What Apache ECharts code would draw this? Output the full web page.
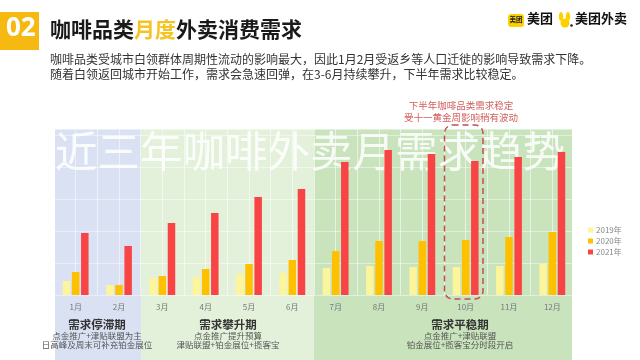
<!DOCTYPE html>
<html><head><meta charset="utf-8">
<script src="https://cdn.jsdelivr.net/npm/echarts@6/dist/echarts.min.js"></script>
<style>html,body{margin:0;padding:0;background:#fff}#c{width:640px;height:360px}</style>
</head><body><div id="c"></div>
<script>
const months = ['1月','2月','3月','4月','5月','6月','7月','8月','9月','10月','11月','12月'];
const seriesNames = ['2019年','2020年','2021年'];
const v2019 = [14, 10, 17, 18, 21, 22, 27, 29, 28, 28, 29, 31];
const v2020 = [23, 10, 19, 26, 31, 35, 44, 54, 54, 55, 58, 63];
const v2021 = [62, 49, 72, 82, 98, 106, 133, 145, 141, 134, 138, 143];
const phaseTitles = ['需求停滞期','需求攀升期','需求平稳期'];
const phaseLine1 = ['点金推广+津贴联盟为主','点金推广提升预算','点金推广+津贴联盟'];
const phaseLine2 = ['日高峰及周末可补充铂金展位','津贴联盟+铂金展位+揽客宝','铂金展位+揽客宝分时段开启'];
const noteLines = ['下半年咖啡品类需求稳定','受十一黄金周影响稍有波动'];

const FONT = '"Noto Sans CJK SC", "Noto Sans", sans-serif';
const colors = ['#fcf59c', '#ffc000', '#f84444'];
const chart = echarts.init(document.getElementById('c'));

function ctext(x, y, text, font, fill, lh) {
  return {type:'text', x:x, y:y, silent:true, style:{text:text, font:font, fill:fill, align:'center', verticalAlign:'top', lineHeight:lh}};
}

const graphics = [
  {type:'rect', z:-10, silent:true, shape:{x:55,y:129,width:86,height:231}, style:{fill:'#d9e1f2'}},
  {type:'rect', z:-10, silent:true, shape:{x:141,y:129,width:173,height:231}, style:{fill:'#e3f0da'}},
  {type:'rect', z:-10, silent:true, shape:{x:314,y:129,width:258,height:231}, style:{fill:'#c9e3bd'}},
  {type:'text', z:-5, silent:true, x:55, y:130, style:{text:'近三年咖啡外卖月需求趋势', font:'42.5px '+FONT, fill:'rgba(255,255,255,0.85)'}},
  {type:'rect', shape:{x:0,y:12,width:39,height:38}, style:{fill:'#f6b912'}},
  {type:'text', x:6, y:16, style:{text:'02', font:'bold 26px "Open Sans", sans-serif', fill:'#fff'}},
  {type:'text', x:50, y:19, style:{text:'{a|咖啡品类}{b|月度}{a|外卖消费需求}', rich:{a:{font:'bold 21px '+FONT, fill:'#1a1a1a'}, b:{font:'bold 21px '+FONT, fill:'#f6c324'}}}},
  {type:'text', x:50, y:52, style:{text:'咖啡品类受城市白领群体周期性流动的影响最大，因此1月2月受返乡等人口迁徙的影响导致需求下降。\n随着白领返回城市开始工作，需求会急速回弹，在3-6月持续攀升，下半年需求比较稳定。', font:'12px '+FONT, fill:'#333', lineHeight:15}},
  {type:'rect', shape:{x:508,y:14,width:16,height:13,r:3}, style:{fill:'#ffd000'}},
  {type:'text', x:509.5, y:16.5, style:{text:'美团', font:'bold 6.5px '+FONT, fill:'#222'}},
  {type:'text', x:527, y:12, style:{text:'美团', font:'bold 13px '+FONT, fill:'#111'}},
  {type:'ellipse', shape:{cx:561,cy:16.5,rx:2.2,ry:4.5}, style:{fill:'#ffd000'}},
  {type:'ellipse', shape:{cx:568,cy:16.5,rx:2.2,ry:4.5}, style:{fill:'#ffd000'}},
  {type:'circle', shape:{cx:565,cy:23,r:4.5}, style:{fill:'#ffd000'}},
  {type:'circle', shape:{cx:571.5,cy:25.5,r:1.3}, style:{fill:'#222'}},
  {type:'text', x:575, y:12, style:{text:'美团外卖', font:'bold 13px '+FONT, fill:'#111'}},
  ctext(461, 99, noteLines.join('\n'), '9.5px '+FONT, '#d2605f', 12),
  {type:'rect', z:20, silent:true, shape:{x:444.5,y:125,width:38.5,height:174,r:8}, style:{fill:'none', stroke:'#c0504d', lineWidth:1.5, lineDash:[6,4]}},
];
const phaseCenters = [97, 228, 460];
for (let i = 0; i < 3; i++) {
  graphics.push(ctext(phaseCenters[i], 318, phaseTitles[i], 'bold 11.5px '+FONT, '#333', 13));
  graphics.push(ctext(phaseCenters[i], 331, phaseLine1[i]+'\n'+phaseLine2[i], '8.5px '+FONT, '#555', 9.5));
}

chart.setOption({
  animation:false,
  textStyle:{fontFamily:FONT},
  color: colors,
  grid:{left:54, right:66, top:129, bottom:65},
  legend:{orient:'vertical', left:583, top:221, itemWidth:5, itemHeight:5, itemGap:3, icon:'rect',
    textStyle:{fontSize:8, color:'#888', padding:[0,0,0,-2]}, data:seriesNames},
  xAxis:[
    {type:'category', data:months, axisLine:{show:false}, axisTick:{show:false},
     axisLabel:{fontSize:8, color:'#777', margin:8}},
    {type:'value', min:0, max:24, interval:1, show:true, position:'bottom', axisLine:{show:false}, axisTick:{show:false}, axisLabel:{show:false},
     splitLine:{show:true, lineStyle:{color:'rgba(255,255,255,0.55)', width:1}}}
  ],
  yAxis:{type:'value', min:0, max:166, interval:32, axisLabel:{show:false}, axisLine:{show:false}, axisTick:{show:false},
    splitLine:{show:true, lineStyle:{color:'rgba(255,255,255,0.45)', width:1}}},
  series:[
    {name:seriesNames[0], type:'bar', data:v2019, barWidth:7.5, barGap:'22%', z:5},
    {name:seriesNames[1], type:'bar', data:v2020, barWidth:7.5, barGap:'22%', z:5},
    {name:seriesNames[2], type:'bar', data:v2021, barWidth:7.5, barGap:'22%', z:5}
  ],
  graphic: graphics
});
</script>
</body></html>
